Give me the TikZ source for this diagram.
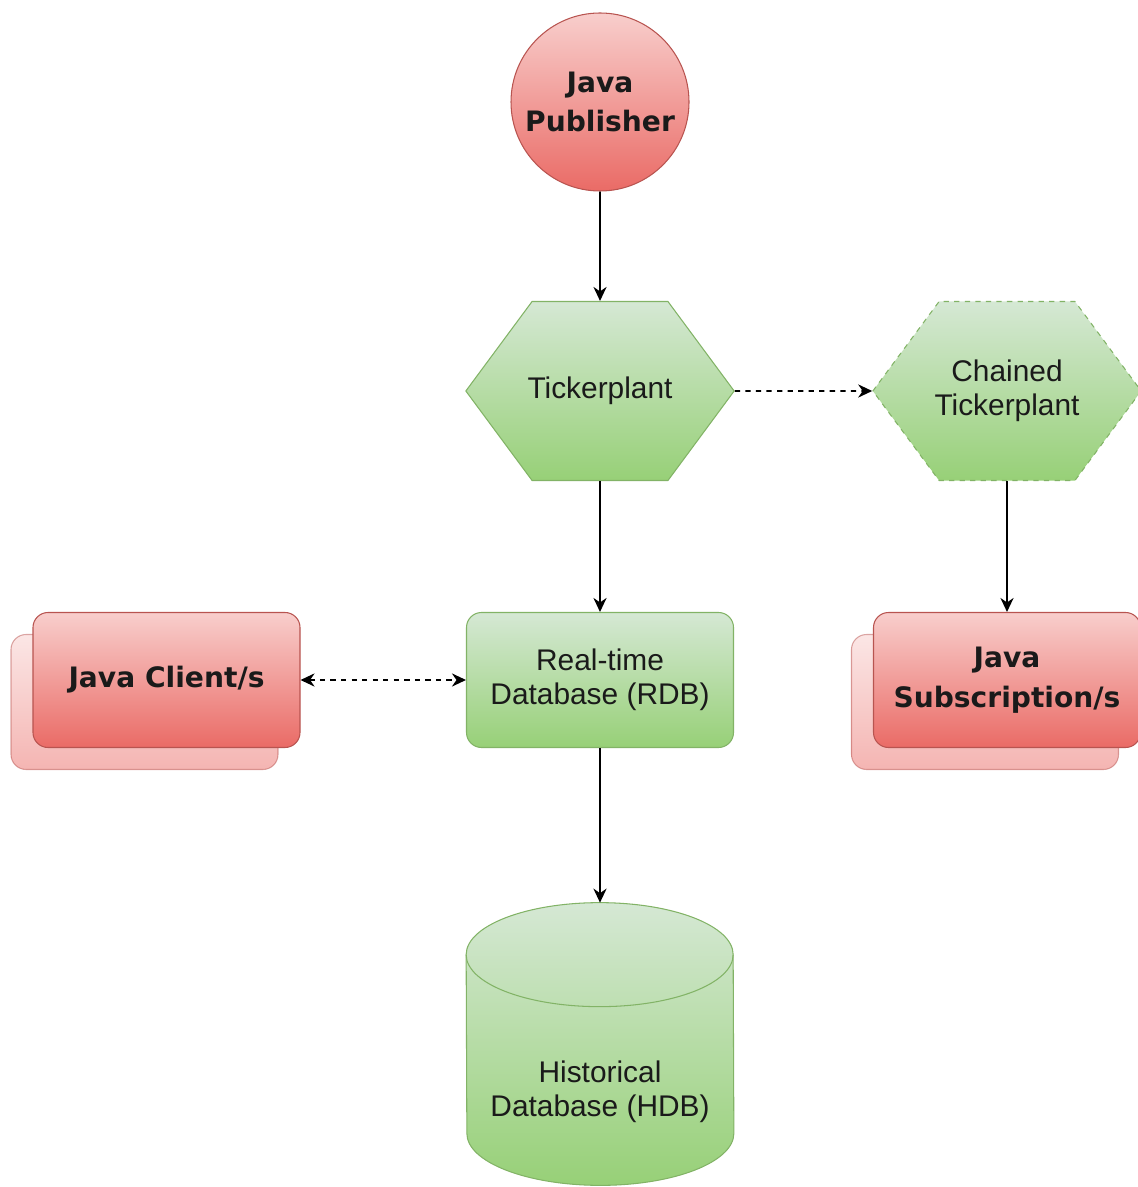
\documentclass[tikz,border=0pt]{standalone}
\usepackage{fontspec}
\setmainfont{Liberation Sans}
\newfontfamily\redfont{DejaVu Sans}
\usepackage{tikz}
\usetikzlibrary{positioning,shapes.symbols,arrows.meta}
\definecolor{greentop}{HTML}{D5E8D4}
\definecolor{greenbot}{HTML}{97D077}
\definecolor{greenline}{HTML}{82B366}
\definecolor{redtop}{HTML}{F8CECC}
\definecolor{redbot}{HTML}{EA6B66}
\definecolor{redline}{HTML}{B85450}
\definecolor{textgray}{HTML}{1A1A1A}
\tikzset{
  greennode/.style={draw=greenline,line width=0.6pt,top color=greentop,bottom color=greenbot,
    align=center,inner sep=2pt,text=textgray,font=\fontsize{17}{19.4}\selectfont},
  rednode/.style={draw=redline,line width=0.6pt,top color=redtop,bottom color=redbot,
    align=center,inner sep=2pt,text=textgray,font=\redfont\bfseries\fontsize{16}{22.7}\selectfont},
  hexa/.style={shape=signal,signal to=east and west,signal pointer angle=107,
    inner xsep=-2.6pt,minimum height=3.58cm},
  box/.style={rectangle,rounded corners=0.3cm,minimum width=5.34cm,minimum height=2.7cm},
  backbox/.style={rednode,box,opacity=0.5},
  conn/.style={line width=1pt,-{Stealth[length=8pt,width=7.5pt]}},
  dashconn/.style={conn,dash pattern=on 3pt off 3pt}
}

\begin{document}
\begin{tikzpicture}[node distance=5.78cm,on grid]
  \useasboundingbox (0,0) rectangle (22.74,-23.74);
  \node[rednode,circle,minimum size=3.56cm] (pub) at (12,-2.04) {Java\\Publisher};
  \node[greennode,hexa] (tp) [below = of pub] {Tickerplant};
  \node[greennode,hexa,dashed] (ctp) [right = 8.14cm of tp] {Chained\\Tickerplant};
  \node[greennode,box] (rdb) [below = of tp] {Real-time\\Database (RDB)};
  % stacked client boxes
  \node[backbox] (clientb) [left = 9.11cm of rdb, yshift=-0.44cm] {};
  \node[rednode,box] (client) [above right = 0.44cm and 0.44cm of clientb] {Java Client/s};
  \node[backbox] (subb) [below = of ctp, xshift=-0.44cm, yshift=-0.44cm] {};
  \node[rednode,box] (sub) [above right = 0.44cm and 0.44cm of subb] {Java\\Subscription/s};
  % historical database cylinder
  \node[minimum width=5.34cm,minimum height=5.64cm] (hdb) [below = 7.28cm of rdb] {};
  \shade[top color=greentop,bottom color=greenbot]
    ([yshift=-1.04cm]hdb.north west) arc[start angle=180,end angle=0,x radius=2.67cm,y radius=1.04cm]
    -- ([yshift=1.04cm]hdb.south east) arc[start angle=0,end angle=-180,x radius=2.67cm,y radius=1.04cm]
    -- cycle;
  \draw[greenline,line width=0.6pt]
    ([yshift=-1.04cm]hdb.north west) arc[start angle=180,end angle=0,x radius=2.67cm,y radius=1.04cm]
    -- ([yshift=1.04cm]hdb.south east) arc[start angle=0,end angle=-180,x radius=2.67cm,y radius=1.04cm]
    -- cycle;
  \draw[greenline,line width=0.6pt] ([yshift=-1.04cm]hdb.north west)
    arc[start angle=180,end angle=360,x radius=2.67cm,y radius=1.04cm];
  \node[align=center,text=textgray,font=\fontsize{17}{19.4}\selectfont] (hdbtext) at ([yshift=-0.96cm]hdb.center)
    {Historical\\Database (HDB)};
  \path
  (pub) edge [conn] (tp)
  (tp) edge [conn] (rdb)
  (tp) edge [dashconn] (ctp)
  (ctp) edge [conn] (sub)
  (rdb) edge [conn] (hdb)
  (client) edge [dashconn,{Stealth[length=8pt,width=7.5pt]}-{Stealth[length=8pt,width=7.5pt]}] (rdb)
  ;
\end{tikzpicture}
\end{document}
